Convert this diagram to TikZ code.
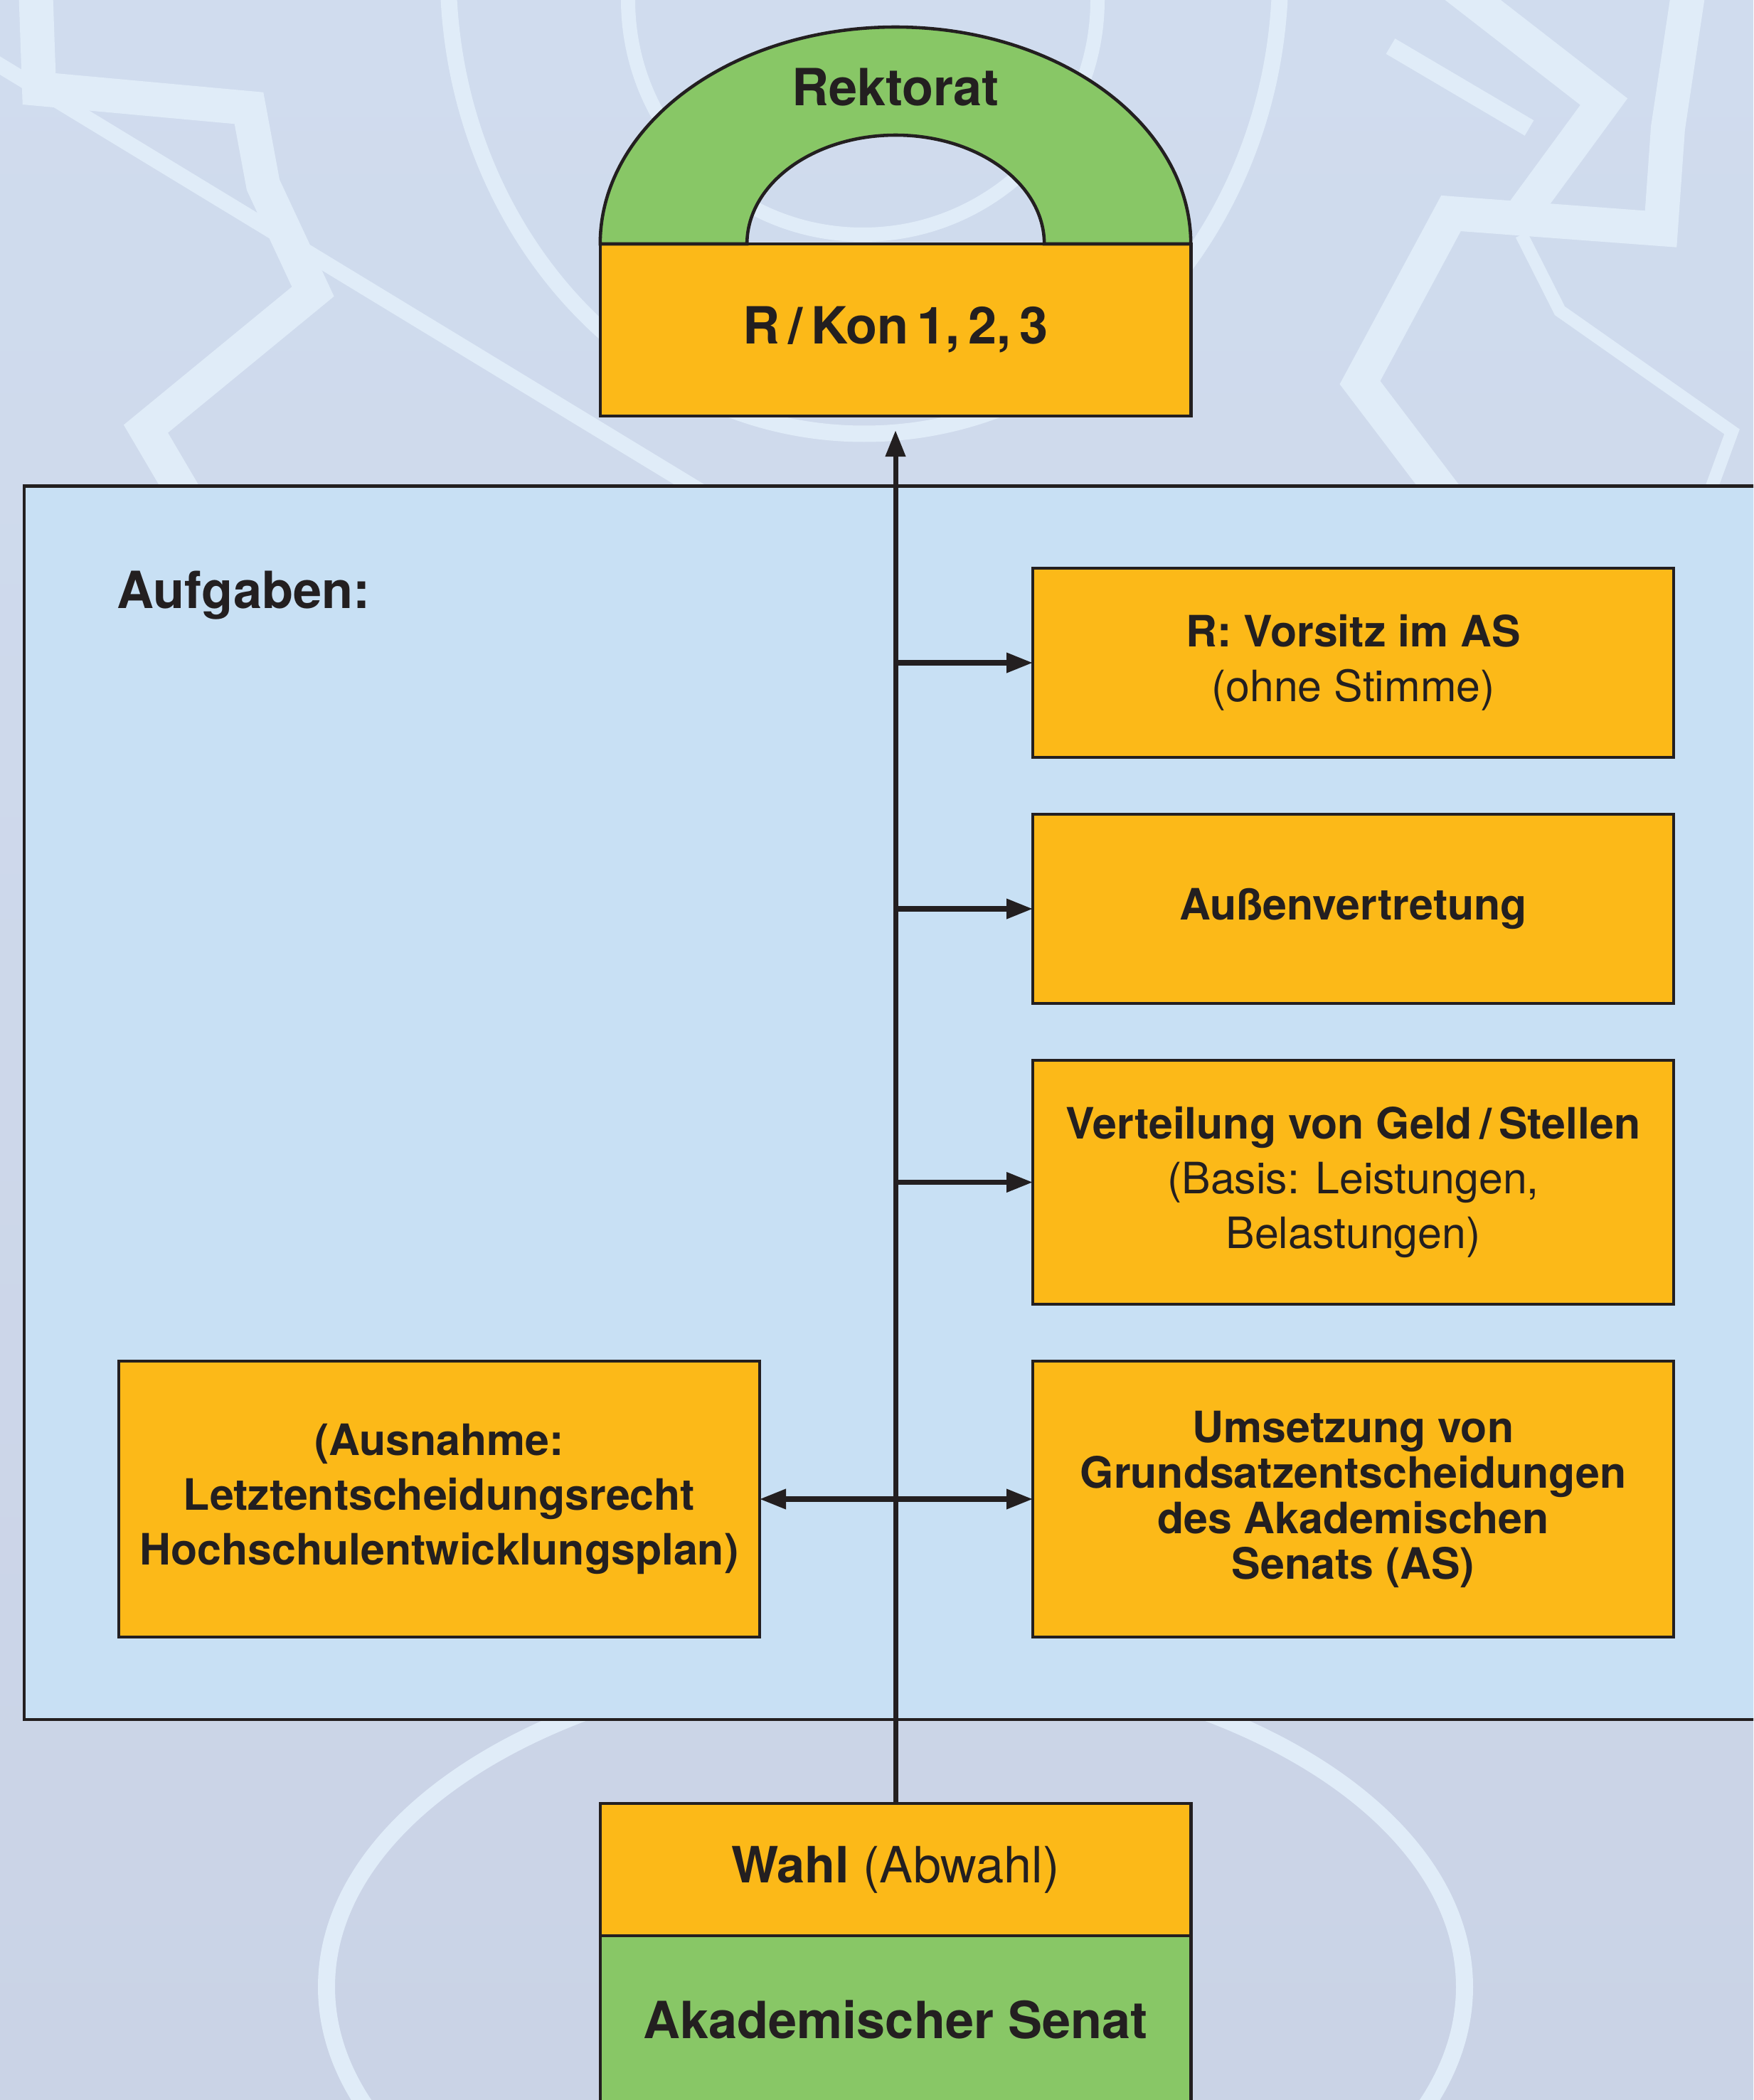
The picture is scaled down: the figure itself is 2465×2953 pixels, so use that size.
\documentclass[tikz,border=0pt]{standalone}
\usepackage{fontspec}
\setmainfont{TeX Gyre Heros}
\usetikzlibrary{positioning,arrows.meta}

\definecolor{ink}{HTML}{231F20}
\definecolor{orangebox}{HTML}{FCB918}
\definecolor{greenbox}{HTML}{88C766}
\definecolor{panelblue}{HTML}{C8E0F4}
\definecolor{bgtop}{HTML}{D0DCEE}
\definecolor{bgbottom}{HTML}{CAD3E6}
\definecolor{bgline}{HTML}{E0ECF8}

\tikzset{pfeil/.tip={Triangle[length=3.7mm,width=2.7mm]}}

\begin{document}
\begin{tikzpicture}[x=0.1mm,y=-0.1mm,
  box/.style={draw=ink,line width=1.3pt,fill=orangebox,text=ink,inner sep=0pt,outer sep=0pt,align=center},
  obox/.style={box,minimum width=90.1mm,font=\fontsize{17.3}{22}\selectfont},
  hbox/.style={box,minimum width=83.04mm},
  head/.style={font=\fontsize{20.5}{24}\selectfont\bfseries},
  conn/.style={draw=ink,line width=2pt,-pfeil},
  bgband/.style={draw=bgline,line width=4.8mm,line join=miter}]
\useasboundingbox (0,0) rectangle (2465,2953);
\clip (0,0) rectangle (2465,2953);
\shade[top color=bgtop,bottom color=bgbottom] (0,0) rectangle (2465,2953);

% Hintergrund
\begin{scope}[bgband]
\draw (50,-20) -- (55,125) -- (350,152) -- (370,260) -- (440,410) -- (205,603) -- (262,700);
\draw (2375,-20) -- (2345,180) -- (2335,322) -- (2040,300) -- (1912,538) -- (2035,700);
\draw (2045,-20) -- (2255,143) -- (2140,300);
\draw[line width=1.8mm] (2139,330) -- (2193,437) -- (2435,607) -- (2401,700);
\draw[line width=2.5mm] (1955,65) -- (2150,180);
\draw[line width=2.2mm] (-20,80) -- (1000,700);
\draw[line width=2.3mm] (1215,-40) ellipse [x radius=58.5mm,y radius=65mm];
\draw[line width=2mm] (1213,0) circle [radius=33mm];
\draw[line width=2.4mm] (1259,2794) ellipse [x radius=80mm,y radius=46.1mm];
\end{scope}

% Aufgabenfeld
\draw[ink,line width=1.3pt,fill=panelblue] (34,683.5) rectangle (2520,2418);
\node[head,text=ink,anchor=base west] (aufgaben) at (152,855) {Aufgaben:};

% Rektorat
\node[hbox,minimum height=24.2mm,head] (rkon) at (1259,464) {R\,/\,Kon\,1,\,2,\,3};
\filldraw[fill=greenbox,draw=ink,line width=1.3pt] (rkon.north west)
  arc[start angle=180,end angle=0,x radius=41.52mm,y radius=30.5mm] -- ++(-206,0)
  arc[start angle=0,end angle=180,x radius=20.9mm,y radius=15.3mm] -- cycle;
\node[head,text=ink] (rektorat) at (1259,123) {Rektorat};

% Aufgaben rechts
\node[obox,minimum height=26.6mm] (vorsitz) at (1902.5,932)
  {{\bfseries R: Vorsitz im AS}\\(ohne Stimme)};
\node[obox,minimum height=26.6mm,below=8mm of vorsitz] (aussen)
  {\bfseries Außenvertretung};
\node[obox,minimum height=34.3mm,below=8mm of aussen] (verteilung)
  {{\bfseries Verteilung von Geld\,/\,Stellen}\\(Basis: Leistungen,\\Belastungen)};
\node[obox,minimum height=38.8mm,below=8mm of verteilung,
  font=\fontsize{17.3}{18.2}\selectfont\bfseries] (umsetzung)
  {Umsetzung von\\Grundsatzentscheidungen\\des Akademischen\\Senats (AS)};
\node[obox,minimum height=38.8mm,left=38.4mm of umsetzung,
  font=\fontsize{17.3}{22}\selectfont\bfseries] (ausnahme)
  {(Ausnahme:\\Letztentscheidungsrecht\\Hochschulentwicklungsplan)};

% Senat
\node[hbox,minimum height=18.6mm,font=\fontsize{20}{24}\selectfont] (wahl) at (1259,2629)
  {{\bfseries Wahl} (Abwahl)};
\node[hbox,fill=greenbox,minimum height=23.6mm,below=0pt of wahl,head] (senat)
  {Akademischer Senat};

% Pfeile
\draw[conn,shorten >=2mm] (wahl.north) -- (rkon.south);
\draw[conn] (wahl.north |- vorsitz.west) -- (vorsitz.west);
\draw[conn] (wahl.north |- aussen.west) -- (aussen.west);
\draw[conn] (wahl.north |- verteilung.west) -- (verteilung.west);
\draw[conn,pfeil-pfeil] (ausnahme.east) -- (umsetzung.west);
\end{tikzpicture}
\end{document}
